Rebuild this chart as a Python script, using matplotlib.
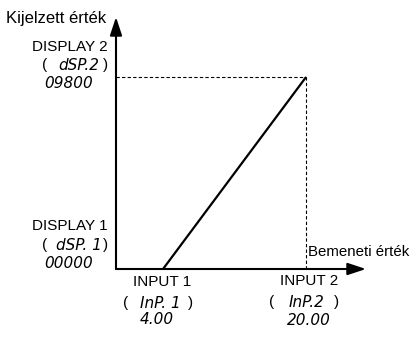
import matplotlib
matplotlib.use("Agg")
import matplotlib.pyplot as plt

# Data
input_values = [4.00, 20.00]
display_values = [0, 9800]
input_labels = ["INPUT 1", "INPUT 2"]
input_codes = ["InP. 1", "InP.2"]
input_texts = ["4.00", "20.00"]
display_labels = ["DISPLAY 1", "DISPLAY 2"]
display_codes = ["dSP. 1", "dSP.2"]
display_texts = ["00000", "09800"]
x_title = "Bemeneti érték"
y_title = "Kijelzett érték"

W, H = 415, 337
fig = plt.figure(figsize=(W / 100, H / 100), dpi=100)

def fx(x):
    return x / W

def fy(y):
    return 1 - y / H

# axes placement in pixels
L, R, T, B = 116, 366, 17, 269
ax = fig.add_axes([fx(L), fy(B), (R - L) / W, (B - T) / H])
ax.set_xlim(-1.26, 26.7)
ax.set_ylim(0, 12862)
ax.axis("off")
ax.patch.set_alpha(0)

sans = "Liberation Sans"
fs = 11
seg = dict(family="DejaVu Sans", style="italic", fontsize=11)

# axis arrows
arrow = dict(arrowstyle="-|>,head_length=0.85,head_width=0.28", lw=1.5,
             color="black", shrinkA=0, shrinkB=0, mutation_scale=13)
ax.annotate("", xy=(0, 1), xytext=(0, 0), xycoords="axes fraction",
            textcoords="axes fraction", arrowprops=arrow, clip_on=False)
ax.annotate("", xy=(1, 0), xytext=(0, 0), xycoords="axes fraction",
            textcoords="axes fraction", arrowprops=arrow, clip_on=False)

# main line
ax.plot(input_values, display_values, color="black", lw=1.6,
        solid_capstyle="butt", clip_on=False)

# dashed guides
x0 = ax.get_xlim()[0]
ax.plot([x0, input_values[1]], [display_values[1], display_values[1]],
        color="black", lw=0.8, ls=(0, (3, 2)))
ax.plot([input_values[1], input_values[1]], [0, display_values[1]],
        color="black", lw=0.8, ls=(0, (3, 2)))

# titles
fig.text(fx(6), fy(18), y_title, ha="left", va="center", family=sans, fontsize=12)
fig.text(fx(308), fy(252), x_title, ha="left", va="center", family=sans, fontsize=10.8)


def paren(cx, cy, code, half, ccx):
    fig.text(fx(cx - half), fy(cy), "(", ha="left", va="center", family=sans, fontsize=fs)
    fig.text(fx(cx + half), fy(cy), ")", ha="right", va="center", family=sans, fontsize=fs)
    fig.text(fx(ccx), fy(cy + 5), code, ha="center", va="baseline", **seg)


# display labels
disp_y = {0: (226, 245, 268), 1: (47, 65, 88)}
for i in range(2):
    y1, y2, y3 = disp_y[i]
    fig.text(fx(108), fy(y1), display_labels[i], ha="right", va="center",
             family=sans, fontsize=fs)
    paren(75, y2, display_codes[i], 33, 79)
    fig.text(fx(69), fy(y3), display_texts[i], ha="center", va="baseline", **seg)

# input labels
inp = {0: (162, 282, 158, 303, 160, 157, 324), 1: (309, 281, 304, 302, 307, 309, 325)}
for i in range(2):
    c1, y1, c2, y2, cc, c3, y3 = inp[i]
    fig.text(fx(c1), fy(y1), input_labels[i], ha="center", va="center",
             family=sans, fontsize=fs)
    paren(c2, y2, input_codes[i], 35, cc)
    fig.text(fx(c3), fy(y3), input_texts[i], ha="center", va="baseline", **seg)

fig.savefig("out.png", dpi=100)
